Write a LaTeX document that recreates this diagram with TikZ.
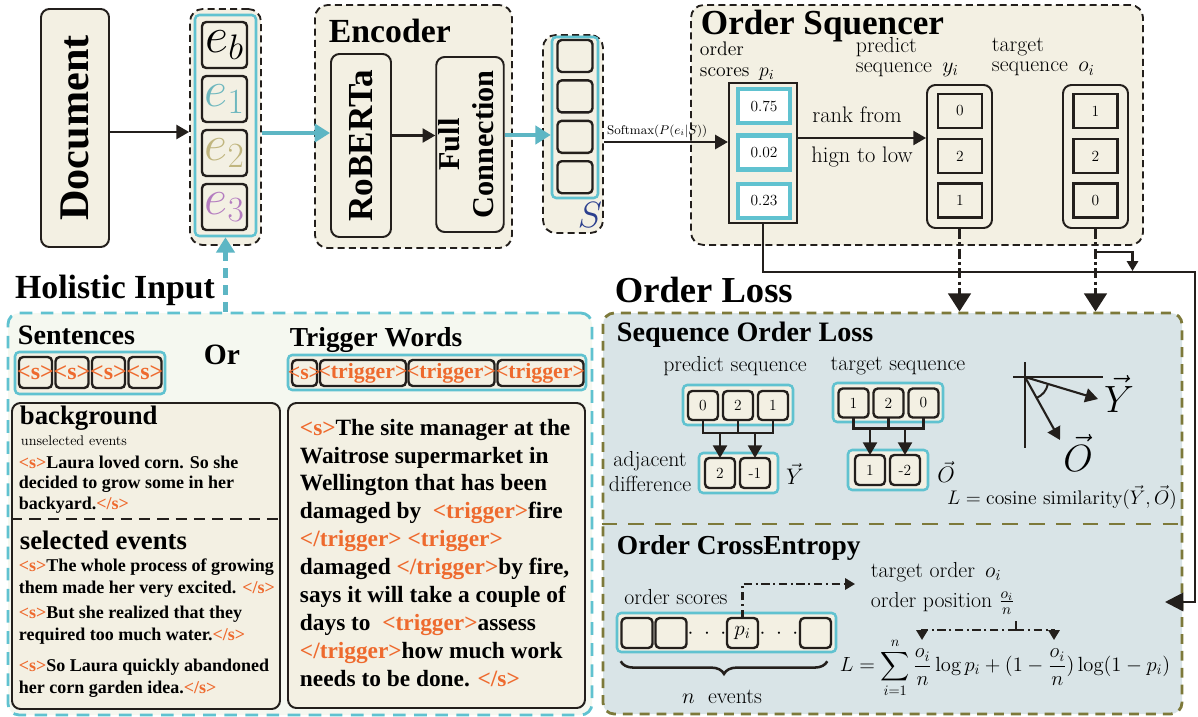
\RequirePackage{fix-cm}
\documentclass[tikz,border=0pt]{standalone}
\usepackage{amsmath}
\usepackage{xcolor}
\usepackage{fontspec}
\newfontfamily\tms{Liberation Serif}
\usetikzlibrary{arrows.meta,positioning,calc,decorations.pathreplacing}

\definecolor{cream}{HTML}{F3F0E3}
\definecolor{mint}{HTML}{F5F8F0}
\definecolor{lossbg}{HTML}{D9E4E7}
\definecolor{cyanln}{HTML}{60C2D0}
\definecolor{cyanar}{HTML}{5DB6C4}
\definecolor{orng}{HTML}{EE6A2E}
\definecolor{olive}{HTML}{7D793A}
\definecolor{ink}{HTML}{231F1C}
\definecolor{eone}{HTML}{6DB7BE}
\definecolor{etwo}{HTML}{C0B57E}
\definecolor{ethree}{HTML}{B47CC0}
\definecolor{sblue}{HTML}{2B3F8E}

\newcommand{\fs}[2]{\fontsize{#1}{#2}\selectfont}
\newcommand{\bt}{\tms\bfseries}
\newcommand{\tg}[1]{\textcolor{orng}{#1}}

\begin{document}
\begin{tikzpicture}[x=0.025cm,y=-0.025cm,
	sz/.style 2 args={minimum width=#1*0.025cm,minimum height=#2*0.025cm}]
	\tikzstyle{blk}=[draw=ink,line width=1.4pt,rounded corners=6pt,fill=cream,inner sep=0pt]
	\tikzstyle{frame}=[draw=ink,line width=1.3pt,dash pattern=on 5pt off 3pt,rounded corners=9pt,fill=cream,inner sep=0pt]
	\tikzstyle{cbox}=[draw=cyanln,line width=1.8pt,rounded corners=3pt,fill=cream,inner sep=0pt]
	\tikzstyle{cell}=[draw=ink,line width=1.7pt,rounded corners=3pt,fill=cream,inner sep=0pt,outer sep=0pt]
	\tikzstyle{sqcell}=[draw=ink,line width=2pt,fill=cream,inner sep=0pt,font=\fs{11}{11}]
	\tikzstyle{score}=[draw=cyanln,line width=3pt,fill=white,inner sep=0pt,font=\fs{11}{11}]
	\tikzstyle{arr}=[draw=ink,line width=1.5pt,-{Triangle[length=9pt,width=10pt]}]
	\tikzstyle{carr}=[draw=cyanar,line width=3pt,-{Triangle[length=11pt,width=13pt]}]
	\tikzstyle{dd}=[draw=ink,line width=2.4pt,dash pattern=on 7pt off 2.5pt on 2pt off 2.5pt,-{Triangle[length=13pt,width=16pt]}]
	\tikzstyle{ddt}=[draw=ink,line width=1.5pt,dash pattern=on 6pt off 2.5pt on 1.5pt off 2.5pt]
	\tikzstyle{tip}=[-{Triangle[length=7pt,width=8pt]}]
	
	\useasboundingbox (0,0) rectangle (1198,717);
	
	% document and event column
	\node[blk,sz={68}{238}] (doc) at (75,128) {\rotatebox{90}{\bt\fs{30}{30}Document}};
	\node[frame,sz={71}{236}] (ebox) at (225.5,127) {};
	\node[cbox,sz={61}{221}] (ecol) at (225.5,125.5) {};
	\node[cell,sz={45}{46}] (eb) at (224.5,45) {\fs{36}{36}$e_b$};
	\node[cell,sz={45}{46},below=0.2cm of eb] (e1) {\fs{36}{36}$\color{eone}e_1$};
	\node[cell,sz={45}{46},below=0.2cm of e1] (e2) {\fs{36}{36}$\color{etwo}e_2$};
	\node[cell,sz={45}{46},below=0.2cm of e2] (e3) {\fs{36}{36}$\color{ethree}e_3$};
	\draw[arr] ($(doc.east)+(0,4)$) coordinate (c0) -- (c0 -| ebox.west);
	
	% encoder
	\node[frame,sz={197}{243}] (enc) at (413.5,126.5) {};
	\node[anchor=west] (enct) at (324,31) {\bt\fs{24}{24}Encoder};
	\node[blk,sz={60}{183}] (rob) at (361,145.5) {\rotatebox{90}{\bt\fs{25}{25}RoBERTa}};
	\node[blk,sz={64}{175}] (fc) at (470,144.5) {\rotatebox{90}{\bt\fs{21.5}{24}\begin{tabular}{@{}c@{}}Full\\Connection\end{tabular}}};
	\draw[carr] ($(ebox.east)+(0,6)$) coordinate (c1) -- (c1 -| rob.west);
	\draw[arr] ($(rob.east)+(0,-10)$) coordinate (c2) -- (c2 -| fc.west);
	
	% sentence vectors S
	\node[frame,sz={60}{198}] (sbox) at (573,134) {};
	\node[cbox,sz={46}{161}] (scol) at (575,117.5) {};
	\node[cell,sz={35}{32}] (s1) at (575,56) {};
	\node[cell,sz={35}{32},below=0.21cm of s1] (s2) {};
	\node[cell,sz={35}{32},below=0.21cm of s2] (s3) {};
	\node[cell,sz={35}{32},below=0.21cm of s3] (s4) {};
	\node (slab) at (590,215) {\fs{26}{26}$\color{sblue}S$};
	\draw[carr] ($(fc.east)+(0,-9.5)$) coordinate (c3) -- (c3 -| scol.west);
	
	% order squencer
	\node[frame,sz={452}{240}] (seqr) at (917,125) {};
	\node[anchor=west] (seqt) at (696,26) {\bt\fs{25}{25}Order Squencer};
	\node[anchor=west,align=left,font=\fs{14}{15.5}] (plab) at (695,61) {order\\scores~\,$p_i$};
	\node[anchor=west,align=left,font=\fs{15.5}{14.5}] (ylab) at (851,57) {predict\\sequence~\,$y_i$};
	\node[anchor=west,align=left,font=\fs{15.5}{14.5}] (olab) at (987,57) {target\\sequence~\,$o_i$};
	\node[draw=ink,line width=1.6pt,fill=cream,sz={68}{140},inner sep=0pt] (pbox) at (763,153) {};
	\node[score,sz={52}{34}] (p1) at (764,106) {0.75};
	\node[score,sz={52}{34}] (p2) at (764,152.5) {0.02};
	\node[score,sz={52}{34}] (p3) at (764,201) {0.23};
	\node[blk,sz={65}{143}] (ybox) at (959.5,156.5) {};
	\node[sqcell,sz={44}{34}] (y1) at (960,111) {0};
	\node[sqcell,sz={44}{34}] (y2) at (960,156) {2};
	\node[sqcell,sz={44}{34}] (y3) at (960,200.5) {1};
	\node[blk,sz={65}{143}] (obox) at (1095.5,156.5) {};
	\node[sqcell,sz={44}{34}] (o1) at (1095.5,111) {1};
	\node[sqcell,sz={44}{34}] (o2) at (1095.5,156) {2};
	\node[sqcell,sz={44}{34}] (o3) at (1095.5,200.5) {0};
	\draw[arr] ($(sbox.east)+(0,8)$) coordinate (c4) -- (c4 -| pbox.west)
		node[pos=0.43,above=-1pt] {\fs{9}{9}Softmax$(P(e_i|S))$};
	\draw[arr] ($(pbox.east)+(0,-15)$) coordinate (c5) -- (c5 -| ybox.west);
	\node (rk1) at (857,115) {\fs{16}{16}rank from};
	\node (rk2) at (862,157) {\fs{16}{16}hign to low};
	
	% holistic input
	\node (holt) at (115,290) {\bt\fs{24}{24}Holistic Input};
	\node[draw=cyanln,line width=2pt,dash pattern=on 9pt off 6pt,rounded corners=8pt,fill=mint,sz={584}{402},inner sep=0pt] (hol) at (300,514) {};
	\draw[cyanar,line width=3pt,dash pattern=on 7pt off 5pt,-{Triangle[length=11pt,width=13pt]}] (ecol.south |- hol.north) -- (ecol.south);
	
	\node[anchor=west] (sent) at (13,335) {\bt\fs{20}{20}Sentences};
	\node (or) at (222,355) {\bt\fs{21}{21}Or};
	\node[cbox,sz={150}{42}] (sbar) at (90,373) {};
	\node[cell,sz={33}{31}] (w1) at (35.5,372.5) {\makebox[0pt]{\bt\fs{17}{17}\tg{<s>}}};
	\node[cell,sz={33}{31}] (w2) at (72,372.5) {\makebox[0pt]{\bt\fs{17}{17}\tg{<s>}}};
	\node[cell,sz={33}{31}] (w3) at (108.5,372.5) {\makebox[0pt]{\bt\fs{17}{17}\tg{<s>}}};
	\node[cell,sz={33}{31}] (w4) at (145,372.5) {\makebox[0pt]{\bt\fs{17}{17}\tg{<s>}}};
	
	\node[anchor=west] (trt) at (285,340) {\bt\fs{19.5}{20}Trigger Words};
	\node[cbox,sz={298}{35}] (tbar) at (437,372.5) {};
	\node[cell,sz={25}{26}] (t0) at (304.5,373) {\makebox[0pt]{\bt\fs{15.5}{15.5}\tg{<s>}}};
	\node[cell,sz={86}{26}] (t1) at (363,373) {\makebox[0pt]{\bt\fs{15.5}{15.5}\tg{<trigger>}}};
	\node[cell,sz={86}{26}] (t2) at (451.5,373) {\makebox[0pt]{\bt\fs{15.5}{15.5}\tg{<trigger>}}};
	\node[cell,sz={86}{26}] (t3) at (540.5,373) {\makebox[0pt]{\bt\fs{15.5}{15.5}\tg{<trigger>}}};
	
	\node[blk,sz={268}{306}] (bg) at (146,556) {};
	\coordinate (bsep) at (0,519);
	\draw[ink,line width=1.4pt,dash pattern=on 8pt off 5pt] (bg.west |- bsep) -- (bg.east |- bsep);
	\node[anchor=west] (bgt) at (15,418) {\bt\fs{19}{19}background};
	\node[anchor=west] (uns) at (16,441) {\fs{10}{10}unselected events};
	\node[anchor=west,align=left,font=\bt\fs{12.8}{14.6}] (bg1) at (14,484.5) {\tg{<s>}Laura loved corn. So she\\decided to grow some in her\\backyard.\tg{</s>}};
	\node[anchor=west] (selt) at (15,540) {\bt\fs{19}{19}selected events};
	\node[anchor=west,align=left,font=\bt\fs{12.8}{15.6}] (se1) at (14,578) {\tg{<s>}The whole process of growing\\them made her very excited. \tg{</s>}};
	\node[anchor=west,align=left,font=\bt\fs{12.8}{15.6}] (se2) at (14,625) {\tg{<s>}But she realized that they\\required too much water.\tg{</s>}};
	\node[anchor=west,align=left,font=\bt\fs{12.8}{15.6}] (se3) at (14,678) {\tg{<s>}So Laura quickly abandoned\\her corn garden idea.\tg{</s>}};
	
	\node[blk,sz={297}{305}] (trx) at (436.5,555.5) {};
	\node[anchor=west,align=left,font=\bt\fs{16.6}{19.9}] (trtx) at (295,553) {\tg{<s>}The site manager at the\\
		Waitrose supermarket in\\
		Wellington that has been\\
		damaged by \ \tg{<trigger>}fire\\
		\tg{</trigger>} \tg{<trigger>}\\
		damaged \tg{</trigger>}by fire,\\
		says it will take a couple of\\
		days to \ \tg{<trigger>}assess\\
		\tg{</trigger>}how much work\\
		needs to be done. \tg{</s>}};
	
	% order loss
	\node[anchor=west] (lt) at (610,290) {\bt\fs{26}{26}Order Loss};
	\node[draw=olive,line width=2pt,dash pattern=on 7pt off 5pt,rounded corners=8pt,fill=lossbg,sz={579}{401},inner sep=0pt] (loss) at (892.5,513.5) {};
	\coordinate (lsep) at (0,524);
	\draw[olive,line width=2pt,dash pattern=on 11pt off 8pt] (loss.west |- lsep) -- (loss.east |- lsep);
	
	\draw[dd] (ybox.south) -- (ybox.south |- loss.north);
	\draw[dd] (obox.south) -- (obox.south |- loss.north);
	\draw[ink,line width=1.5pt,tip] ($(obox.south)+(1,23)$) -- ++(36,0) -- ++(0,19);
	\coordinate (rt) at (1195,272);
	\coordinate (ce) at (1165,602);
	\draw[ink,line width=1.8pt,-{Triangle[length=13pt,width=13pt]}] (pbox.south) |- (rt) -- (rt |- ce) -- (ce);
	
	% sequence order loss
	\node[anchor=west] (sol) at (612,335) {\bt\fs{20}{20}Sequence Order Loss};
	\node (pst) at (735,366) {\fs{15.5}{15.5}predict sequence};
	\node (tst) at (898,366) {\fs{15.5}{15.5}target sequence};
	\node[cbox,sz={110}{40}] (pbar) at (738,405) {};
	\node[cell,sz={30}{29},font=\fs{11}{11}] (q1) at (703,405.5) {0};
	\node[cell,sz={30}{29},font=\fs{11}{11}] (q2) at (738,405.5) {2};
	\node[cell,sz={30}{29},font=\fs{11}{11}] (q3) at (773,405.5) {1};
	\node[cbox,sz={79}{40}] (dbar) at (738.5,473) {};
	\node[cell,sz={30}{30},font=\fs{11}{11}] (d1) at (720,473) {2};
	\node[cell,sz={30}{30},font=\fs{11}{11}] (d2) at (755,473) {-1};
	\coordinate (pj) at (0,433);
	\draw[ink,line width=1.5pt] (q1.south) |- (q3.south |- pj) -- (q3.south);
	\draw[ink,line width=1.5pt] (q2.south) -- (q2.south |- pj);
	\draw[arr] (d1.north |- pj) -- (d1.north);
	\draw[arr] (d2.north |- pj) -- (d2.north);
	\node (vy) at (795,474) {\fs{16}{16}$\vec{Y}$};
	\node[align=center,font=\fs{15.5}{17.8}] (adj) at (650,472) {adjacent\\difference};
	
	\node[cbox,sz={110}{39}] (tbar2) at (888,402.5) {};
	\node[cell,sz={30}{29},font=\fs{11}{11}] (r1) at (853.5,403) {1};
	\node[cell,sz={30}{29},font=\fs{11}{11}] (r2) at (888.5,403) {2};
	\node[cell,sz={30}{29},font=\fs{11}{11}] (r3) at (923.5,403) {0};
	\node[cbox,sz={80}{40}] (odbar) at (888,470) {};
	\node[cell,sz={30}{30},font=\fs{11}{11}] (u1) at (870,470) {1};
	\node[cell,sz={30}{30},font=\fs{11}{11}] (u2) at (905,470) {-2};
	\coordinate (tj) at (0,428.5);
	\draw[ink,line width=1.5pt] (r1.south) |- (r3.south |- tj) -- (r3.south);
	\draw[ink,line width=1.5pt] (r2.south) -- (r2.south |- tj);
	\draw[arr] (u1.north |- tj) -- (u1.north);
	\draw[arr] (u2.north |- tj) -- (u2.north);
	\node (vo) at (946,472) {\fs{16}{16}$\vec{O}$};
	
	\coordinate (org) at (1025,377);
	\draw[ink,line width=1.6pt] ($(org)+(0,-15)$) -- ($(org)+(0,71)$);
	\draw[ink,line width=1.6pt] ($(org)+(-12,0)$) -- ($(org)+(78,0)$);
	\draw[arr] (org) -- ($(org)+(73,22)$);
	\draw[arr] (org) -- ($(org)+(35,63)$);
	\draw[ink,line width=1.4pt] ($(org)+(16.8:24)$) to[bend left=25] ($(org)+(61:24)$);
	\node (bigy) at (1119,394) {\fs{27}{27}$\vec{Y}$};
	\node (bigo) at (1078,453) {\fs{27}{27}$\vec{O}$};
	\node (cosl) at (1062,497) {\fs{14}{14}$L=\text{cosine similarity}(\vec{Y},\vec{O})$};
	
	% order cross entropy
	\node[anchor=west] (oce) at (612,548) {\bt\fs{19.5}{20}Order CrossEntropy};
	\node (osl) at (676,597) {\fs{15.5}{15.5}order scores};
	\node[cbox,sz={219}{39}] (sbar2) at (726.5,632.5) {};
	\node[cell,sz={31}{30}] (k1) at (637,633) {};
	\node[cell,sz={31}{30}] (k2) at (671,633) {};
	\node[cell,sz={31}{30}] (kp) at (742.5,633) {\fs{15}{15}$p_i$};
	\node[cell,sz={31}{30}] (kn) at (815.5,633) {};
	\node (dt1) at (707,634) {\fs{15}{15}$\cdot\;\cdot\;\cdot$};
	\node (dt2) at (779,634) {\fs{15}{15}$\cdot\;\cdot\;\cdot$};
	\coordinate (tgt) at (855,584);
	\draw[ddt,tip] (kp.north) |- (tgt);
	\node[anchor=west] (tord) at (866,572) {\fs{15.5}{15.5}target order~\,$o_i$};
	\node[anchor=west] (opos) at (866,603) {\fs{15.5}{15.5}order position~$\frac{o_i}{n}$};
	\draw[ink,line width=1.8pt,decorate,decoration={brace,mirror,amplitude=9pt}]
		($(sbar2.south west)+(5,8)$) -- ($(sbar2.south east)+(-10,8)$);
	\node (nev) at (722,697) {\fs{15.5}{15.5}$n$~~events};
	\node (cel) at (1005,668) {\fs{14.6}{14.6}$L=\displaystyle\sum_{i=1}^{n}\frac{o_i}{n}\log p_i+(1-\frac{o_i}{n})\log(1-p_i)$};
	\coordinate (fp) at (1016,621);
	\coordinate (fj) at (0,630);
	\coordinate (fa) at (922,640);
	\coordinate (fb) at (1054,640);
	\draw[ddt] (fp) -- (fp |- fj);
	\draw[ddt,tip] (fp |- fj) -| (fa);
	\draw[ddt,tip] (fp |- fj) -| (fb);
\end{tikzpicture}
\end{document}
